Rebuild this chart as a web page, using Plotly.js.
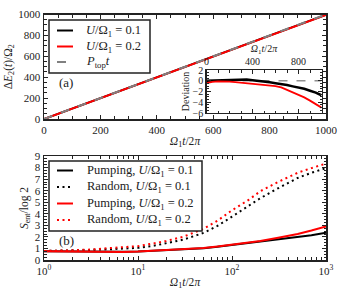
<!DOCTYPE html>
<html><head><meta charset="utf-8">
<script src="https://cdn.plot.ly/plotly-3.0.1.min.js"></script>
<style>html,body{margin:0;padding:0;background:#fff}#c{width:340px;height:300px}</style>
</head><body><div id="c"></div>
<script>
// Panel (a): energy absorbed
const tA = [0,100,200,300,400,500,600,700,800,900,1000];
const E_U01 = [0,100.1,200.2,300.3,400.1,499.8,599.5,699.0,798.8,898.2,997.3];
const E_U02 = [0,99.9,199.8,299.6,399.4,499.2,599.0,698.2,797.4,896.3,995.0];
const tPtop = [0,1000];
const E_Ptop = [0,1000];
// Inset: deviation
const tDev = [0,50,100,150,200,250,300,350,400,450,500,550,600,650,700,750,800,850,900,950,1000];
const dev_U01 = [0.0,0.05,0.1,0.15,0.2,0.25,0.28,0.22,0.1,0.0,-0.15,-0.3,-0.45,-0.6,-0.8,-1.05,-1.25,-1.5,-1.85,-2.2,-2.7];
const dev_U02 = [-0.45,-0.2,-0.12,-0.1,-0.15,-0.25,-0.35,-0.45,-0.6,-0.7,-0.75,-0.85,-1.0,-1.25,-1.7,-2.2,-2.6,-3.1,-3.7,-4.3,-5.0];
const tZero = [0,1000];
const devZero = [0,0];
// Panel (b): entanglement entropy
const tB = [1,1.5,2,3,5,7,10,15,20,30,50,70,100,150,200,300,500,700,1000];
const pump_U01 = [0.75,0.73,0.72,0.72,0.70,0.71,0.73,0.80,0.87,0.93,1.02,1.15,1.30,1.45,1.58,1.75,1.97,2.15,2.37];
const rand_U01 = [0.78,0.80,0.83,0.87,0.93,0.98,1.05,1.25,1.45,1.75,2.35,2.95,3.75,4.65,5.35,6.15,7.10,7.55,7.95];
const pump_U02 = [0.75,0.73,0.72,0.71,0.70,0.70,0.73,0.80,0.87,0.94,1.03,1.16,1.32,1.50,1.65,1.90,2.25,2.55,2.90];
const rand_U02 = [0.78,0.80,0.84,0.90,1.00,1.08,1.20,1.45,1.65,2.00,2.70,3.40,4.30,5.20,5.95,6.70,7.55,7.95,8.35];
const logTickVals = [1,10,100,1000];
const logTickText = ['10<sup>0</sup>','10<sup>1</sup>','10<sup>2</sup>','10<sup>3</sup>'];

const F = 'Liberation Serif, DejaVu Serif, serif';
const U1 = '<i>U</i>/Ω<sub>1</sub> = 0.1';
const U2 = '<i>U</i>/Ω<sub>1</sub> = 0.2';
const DOT = '2px,3.5px';
const BLACK = '#000', RED = '#ff0000', GRAY = '#808080';

const traces = [
  {x:tA,y:E_U01,xaxis:'x',yaxis:'y',mode:'lines',line:{color:BLACK,width:2},name:U1},
  {x:tA,y:E_U02,xaxis:'x',yaxis:'y',mode:'lines',line:{color:RED,width:2},name:U2},
  {x:tPtop,y:E_Ptop,xaxis:'x',yaxis:'y',mode:'lines',line:{color:GRAY,width:2,dash:'dash'},name:'<i>P</i><sub>top</sub><i>t</i>'},
  {x:tZero,y:devZero,xaxis:'x3',yaxis:'y3',mode:'lines',line:{color:'#909090',width:1.5,dash:'dash'}},
  {x:tDev,y:dev_U01,xaxis:'x3',yaxis:'y3',mode:'lines',line:{color:BLACK,width:2.5}},
  {x:tDev,y:dev_U02,xaxis:'x3',yaxis:'y3',mode:'lines',line:{color:RED,width:1.8}},
  {x:tB,y:pump_U01,xaxis:'x2',yaxis:'y2',mode:'lines',line:{color:BLACK,width:2},name:'Pumping, '+U1},
  {x:tB,y:rand_U01,xaxis:'x2',yaxis:'y2',mode:'lines',line:{color:BLACK,width:2,dash:DOT},name:'Random, '+U1},
  {x:tB,y:pump_U02,xaxis:'x2',yaxis:'y2',mode:'lines',line:{color:RED,width:2},name:'Pumping, '+U2},
  {x:tB,y:rand_U02,xaxis:'x2',yaxis:'y2',mode:'lines',line:{color:RED,width:2,dash:DOT},name:'Random, '+U2}
];
traces.forEach(t=>t.showlegend=false);

// hand-drawn legends (matplotlib-like compact spacing)
const P = (x,y)=>[x/340,(300-y)/300];
const shapes = [], annotations = [];
function legendBox(x0,y0,x1,y1){
  const a=P(x0,y0), b=P(x1,y1);
  shapes.push({type:'rect',xref:'paper',yref:'paper',x0:a[0],y0:b[1],x1:b[0],y1:a[1],fillcolor:'#fff',line:{color:'#222',width:1.5}});
}
function legendItem(y,trace,textX){
  const a=P(57,y), b=P(73,y);
  shapes.push({type:'line',xref:'paper',yref:'paper',x0:a[0],y0:a[1],x1:b[0],y1:b[1],line:{color:trace.line.color,width:trace.line.width,dash:trace.line.dash||'solid'}});
  annotations.push({text:trace.name,xref:'paper',yref:'paper',x:textX/340,y:a[1],xanchor:'left',yanchor:'middle',showarrow:false,font:{family:F,size:12.5,color:'#222'}});
}
legendBox(49,20,150,73);
legendItem(30.5,traces[0],84);
legendItem(46.5,traces[1],84);
legendItem(62,traces[2],84);
legendBox(49,161,202,231);
legendItem(170.5,traces[6],85);
legendItem(187,traces[7],85);
legendItem(203.5,traces[8],85);
legendItem(220,traces[9],85);

annotations.push({text:'(a)',xref:'paper',yref:'paper',x:66/340,y:(300-82)/300,xanchor:'center',yanchor:'middle',showarrow:false,font:{family:F,size:13,color:'#222'}});
annotations.push({text:'(b)',xref:'paper',yref:'paper',x:66/340,y:(300-240)/300,xanchor:'center',yanchor:'middle',showarrow:false,font:{family:F,size:13,color:'#222'}});

const ax = {showline:true,mirror:'ticks',linecolor:'#222',linewidth:1.5,ticks:'inside',ticklen:4,tickwidth:1,tickcolor:'#222',showgrid:false,zeroline:false,tickfont:{family:F,size:11,color:'#222'}};
const xt = '<i>Ω</i><sub>1</sub><i>t</i>/2<i>π</i>';

const layout = {
  width:340,height:300,margin:{l:0,r:0,t:0,b:0},paper_bgcolor:'#fff',plot_bgcolor:'#fff',showlegend:false,
  font:{family:F,color:'#222',size:11},
  xaxis:Object.assign({},ax,{domain:[44/340,326/340],anchor:'y',range:[0,1000],dtick:200,minor:{dtick:50,ticks:'inside',ticklen:3,tickcolor:'#222'},
    title:{text:xt,standoff:2,font:{family:F,size:11.5}}}),
  yaxis:Object.assign({},ax,{domain:[(300-119)/300,(300-14.5)/300],anchor:'x',range:[0,1000],dtick:200,minor:{dtick:50,ticks:'inside',ticklen:3,tickcolor:'#222'},
    title:{text:'Δ<i>E</i><sub>2</sub>(<i>t</i>)/Ω<sub>2</sub>',standoff:3,font:{family:F,size:11.5}}}),
  xaxis2:Object.assign({},ax,{domain:[44/340,326/340],anchor:'y2',type:'log',range:[0,3],tickvals:logTickVals,ticktext:logTickText,
    minor:{dtick:'D1',ticks:'inside',ticklen:3,tickcolor:'#222'},
    title:{text:xt,standoff:2,font:{family:F,size:11.5}}}),
  yaxis2:Object.assign({},ax,{domain:[40/300,144/300],anchor:'x2',range:[0,9],dtick:1,minor:{dtick:0.25,ticks:'inside',ticklen:2.5,tickcolor:'#222'},
    title:{text:'<i>S</i><sub>ent</sub>/log 2',standoff:4,font:{family:F,size:11.5}}}),
  xaxis3:Object.assign({},ax,{domain:[206.5/340,321.5/340],anchor:'y3',side:'top',range:[0,1000],dtick:400,linewidth:1.3,
    minor:{dtick:100,ticks:'inside',ticklen:2.5,tickcolor:'#222'},tickfont:{family:F,size:10,color:'#222'},
    title:{text:xt,standoff:0,font:{family:F,size:10}}}),
  yaxis3:Object.assign({},ax,{domain:[(300-113)/300,(300-70)/300],anchor:'x3',range:[-6,2],dtick:2,linewidth:1.3,
    minor:{dtick:0.5,ticks:'inside',ticklen:2,tickcolor:'#222'},tickfont:{family:F,size:10,color:'#222'},
    title:{text:'Deviation',standoff:1,font:{family:F,size:10}}}),
  shapes:shapes,
  annotations:annotations
};
Plotly.newPlot('c',traces,layout,{staticPlot:true,displayModeBar:false});
</script></body></html>
